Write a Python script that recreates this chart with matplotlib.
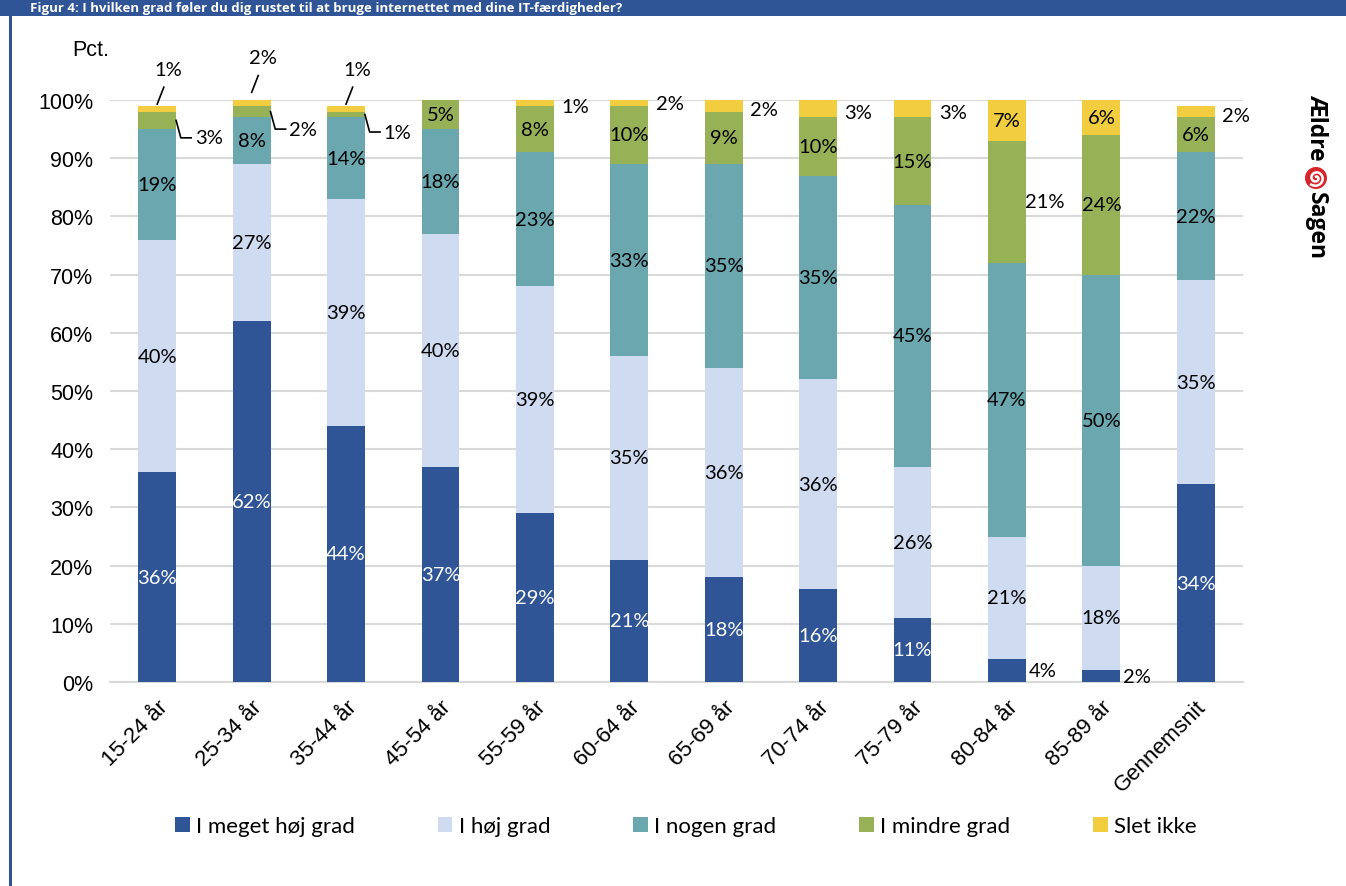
import matplotlib
matplotlib.use("Agg")
import matplotlib.pyplot as plt
from matplotlib.patches import Rectangle, Circle
import numpy as np

categories = ["15-24 år", "25-34 år", "35-44 år", "45-54 år", "55-59 år", "60-64 år",
              "65-69 år", "70-74 år", "75-79 år", "80-84 år", "85-89 år", "Gennemsnit"]
series_names = ["I meget høj grad", "I høj grad", "I nogen grad", "I mindre grad", "Slet ikke"]
meget_hoej = [36, 62, 44, 37, 29, 21, 18, 16, 11, 4, 2, 34]
hoej =       [40, 27, 39, 40, 39, 35, 36, 36, 26, 21, 18, 35]
nogen =      [19, 8, 14, 18, 23, 33, 35, 35, 45, 47, 50, 22]
mindre =     [3, 2, 1, 5, 8, 10, 9, 10, 15, 21, 24, 6]
slet_ikke =  [1, 2, 1, 0, 1, 2, 2, 3, 3, 7, 6, 2]
y_ticks = [0, 10, 20, 30, 40, 50, 60, 70, 80, 90, 100]

colors = ["#2F5597", "#CFDBF1", "#6AA7AF", "#97B256", "#F2CD3F"]
label_colors = ["white", "black", "black", "black", "black"]

series = [meget_hoej, hoej, nogen, mindre, slet_ikke]

W, H = 1346, 887
fig = plt.figure(figsize=(W / 100, H / 100), dpi=100)

# frame decorations (title band + left border)
band = 17
fig.patches.append(Rectangle((0, 1 - band / H), 1, band / H, transform=fig.transFigure,
                             facecolor="#2F5597", edgecolor="none", zorder=0))
fig.patches.append(Rectangle((9 / W, 0), 2.5 / W, 1, transform=fig.transFigure,
                             facecolor="#2F5597", edgecolor="none", zorder=0))
fig.text(30 / W, 1 - (band / 2) / H,
         "Figur 4: I hvilken grad føler du dig rustet til at bruge internettet med dine IT-færdigheder?",
         color="white", fontsize=9.5, fontweight="bold", family="Open Sans", va="center", ha="left")

ax = fig.add_axes([110 / W, (H - 683) / H, (1243 - 110) / W, 582 / H])
x = np.arange(len(categories))
width = 0.40
bottoms = np.zeros(len(categories))
lab_font = "Lato"
lab_size = 14.5

for si, (vals, col) in enumerate(zip(series, colors)):
    vals = np.array(vals, dtype=float)
    ax.bar(x, vals, width, bottom=bottoms, color=col, edgecolor="none",
           label=series_names[si], zorder=3)
    for i, v in enumerate(vals):
        if v <= 0:
            continue
        mid = bottoms[i] + v / 2
        top = bottoms[i] + v
        txt = f"{int(v)}%"
        if si == 0 and v < 5:
            ax.text(x[i] + width / 2 + 0.03, mid, txt, ha="left", va="center",
                    fontsize=lab_size, family=lab_font, color="black", zorder=5)
        elif si == 4 and i < 3:
            # label above with leader line
            ax.plot([x[i], x[i] + 0.07], [top + 0.3, top + 3.2], color="black", lw=1.2,
                    clip_on=False, zorder=5)
            ax.text(x[i] + 0.12, top + 6.3, txt, ha="center", va="center",
                    fontsize=lab_size, family=lab_font, color="black", zorder=5)
        elif si == 3 and i < 3:
            y2 = mid - 3.0
            ax.plot([x[i] + width / 2, x[i] + width / 2 + 0.05, x[i] + width / 2 + 0.16],
                    [mid, y2, y2], color="black", lw=1.2, clip_on=False, zorder=5)
            ax.text(x[i] + width / 2 + 0.2, y2, txt, ha="left", va="center",
                    fontsize=lab_size, family=lab_font, color="black", zorder=5)
        elif si == 4 and v <= 3:
            ax.text(x[i] + width / 2 + 0.08, mid - 0.6, txt, ha="left", va="center",
                    fontsize=lab_size, family=lab_font, color="black", zorder=5)
        else:
            dx = 0.4 if (si == 3 and i == 9) else 0.0
            ax.text(x[i] + dx, mid, txt, ha="center", va="center",
                    fontsize=lab_size, family=lab_font, color=label_colors[si], zorder=5)
    bottoms += vals

ax.set_xlim(-0.5, len(categories) - 0.5)
ax.set_ylim(0, 100)
ax.set_yticks(y_ticks)
ax.set_yticklabels([f"{t}%" for t in y_ticks], family="Liberation Sans", fontsize=15.5)
ax.set_xticks(x)
ax.set_xticklabels(categories, rotation=45, ha="right", rotation_mode="anchor",
                   family="Liberation Sans", fontsize=16)
ax.tick_params(axis="y", length=0, pad=12)
ax.tick_params(axis="x", length=0, pad=10)
ax.grid(axis="y", color="#D9D9D9", linewidth=1.5, zorder=0)
ax.set_axisbelow(True)
for s in ["top", "right", "left"]:
    ax.spines[s].set_visible(False)
ax.spines["bottom"].set_color("#D9D9D9")
ax.spines["bottom"].set_linewidth(1.5)
fig.text(72 / W, (H - 50) / H, "Pct.", ha="left", va="center",
         family="Liberation Sans", fontsize=15.5)

leg = fig.legend(loc="center", bbox_to_anchor=(686 / W, (H - 827) / H), ncol=5, frameon=False,
                 prop={"family": lab_font, "size": 16}, handlelength=0.65, handleheight=0.65,
                 handletextpad=0.3, columnspacing=3.72)

# logo
lx = 1316
fig.text(lx / W, (H - 94) / H, "Ældre", rotation=270, ha="center", va="top",
         family="Open Sans", fontsize=16.5, fontweight="bold", color="black")
cy = 179
r_px = 11
lax = fig.add_axes([(lx - r_px) / W, (H - cy - r_px) / H, 2 * r_px / W, 2 * r_px / H])
lax.set_xlim(-1, 1)
lax.set_ylim(-1, 1)
lax.axis("off")
lax.add_patch(Circle((0, 0), 1.0, facecolor="#D7242A", edgecolor="none"))
t = np.linspace(0, 3.2 * np.pi, 200)
rr = 0.12 + 0.62 * t / t.max()
lax.plot(rr * np.cos(-t + np.pi / 2), rr * np.sin(-t + np.pi / 2), color="white", lw=1.8)
fig.text(lx / W, (H - 192) / H, "Sagen", rotation=270, ha="center", va="top",
         family="Open Sans", fontsize=16.5, fontweight="bold", color="black")

fig.savefig("out.png", dpi=100)
